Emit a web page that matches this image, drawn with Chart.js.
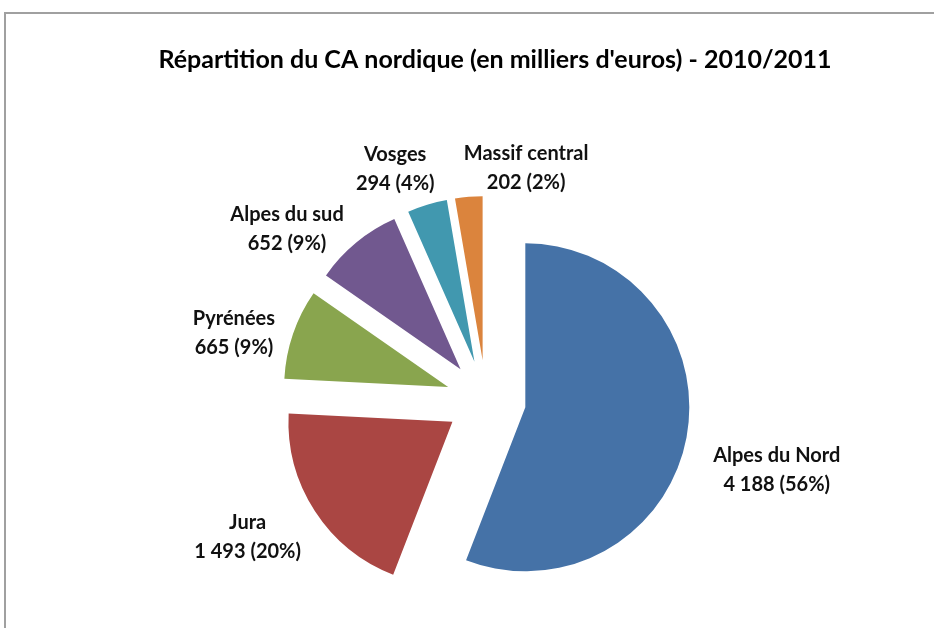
<!DOCTYPE html>
<html>
<head>
<meta charset="utf-8">
<script src="https://cdn.jsdelivr.net/npm/chart.js@4.4.1/dist/chart.umd.min.js"></script>
<style>
  html, body { margin: 0; padding: 0; background: #fff; }
  #wrap { width: 934px; height: 628px; position: relative; }
</style>
</head>
<body>
<div id="wrap"><canvas id="pieChart"></canvas></div>
<script>
// chart data
const regions = ["Alpes du Nord", "Jura", "Pyrénées", "Alpes du sud", "Vosges", "Massif central"];
const values = [4188, 1493, 665, 652, 294, 202];
const percents = [56, 20, 9, 9, 4, 2];
const colors = ["#4572A7", "#AA4643", "#89A54E", "#71588F", "#4198AF", "#DB843D"];
const titleText = "Répartition du CA nordique (en milliers d'euros) - 2010/2011";

// every slice is pulled out of the pie by the same amount
const explode = 40;
// small hand nudges so the labels sit like Excel placed them
const labelNudge = [[12, 25], [-9, 3], [-5, 13], [-23, 19], [-16, 5], [64, 13]];

const FONT = "Lato, 'DejaVu Sans', sans-serif";

function fmtThousands(v) {
    return String(v).replace(/\B(?=(\d{3})+(?!\d))/g, " ");
}

function sliceCenter(arc) {
    const mid = (arc.startAngle + arc.endAngle) / 2;
    return {
        x: arc.x + Math.cos(mid) * explode,
        y: arc.y + Math.sin(mid) * explode,
        dx: Math.cos(mid),
        dy: Math.sin(mid)
    };
}

const explodedPie = {
    id: 'explodedPie',
    beforeDatasetDraw(chart, args) {
        const ctx = chart.ctx;
        args.meta.data.forEach(arc => {
            const c = sliceCenter(arc);
            ctx.save();
            ctx.translate(c.x - arc.x, c.y - arc.y);
            arc.draw(ctx);
            ctx.restore();
        });
        return false;
    },
    afterDraw(chart) {
        const ctx = chart.ctx;
        ctx.save();

        // outer frame (only top and left are inside the picture)
        ctx.strokeStyle = "#a0a0a0";
        ctx.lineWidth = 2;
        ctx.strokeRect(5, 13, 1000, 1000);

        // title
        ctx.fillStyle = "#000";
        ctx.textAlign = "center";
        ctx.textBaseline = "middle";
        ctx.font = "bold 25px " + FONT;
        ctx.fillText(titleText, 495, 60);

        // data labels
        ctx.fillStyle = "#111";
        ctx.font = "bold 20px " + FONT;
        const meta = chart.getDatasetMeta(0);
        meta.data.forEach((arc, i) => {
            const c = sliceCenter(arc);
            const l1 = regions[i];
            const l2 = fmtThousands(values[i]) + " (" + percents[i] + "%)";
            const w = Math.max(ctx.measureText(l1).width, ctx.measureText(l2).width);
            const h = 52;
            const r = arc.outerRadius + 16;
            const cx = c.x + c.dx * r + c.dx * w / 2 + labelNudge[i][0];
            const cy = c.y + c.dy * r + c.dy * h / 2 + labelNudge[i][1];
            ctx.fillText(l1, cx, cy - 14.5);
            ctx.fillText(l2, cx, cy + 14.5);
        });
        ctx.restore();
    }
};

const ctx = document.getElementById('pieChart').getContext('2d');
const pieChart = new Chart(ctx, {
    type: 'pie',
    data: {
        labels: regions,
        datasets: [{
            data: values,
            backgroundColor: colors,
            borderWidth: 0
        }]
    },
    options: {
        responsive: true,
        maintainAspectRatio: false,
        animation: false,
        radius: 164,
        layout: { padding: { left: 286, right: 248, top: 200, bottom: 28 } },
        plugins: {
            legend: { display: false },
            tooltip: { enabled: false },
            title: { display: false }
        }
    },
    plugins: [explodedPie]
});
</script>
</body>
</html>
